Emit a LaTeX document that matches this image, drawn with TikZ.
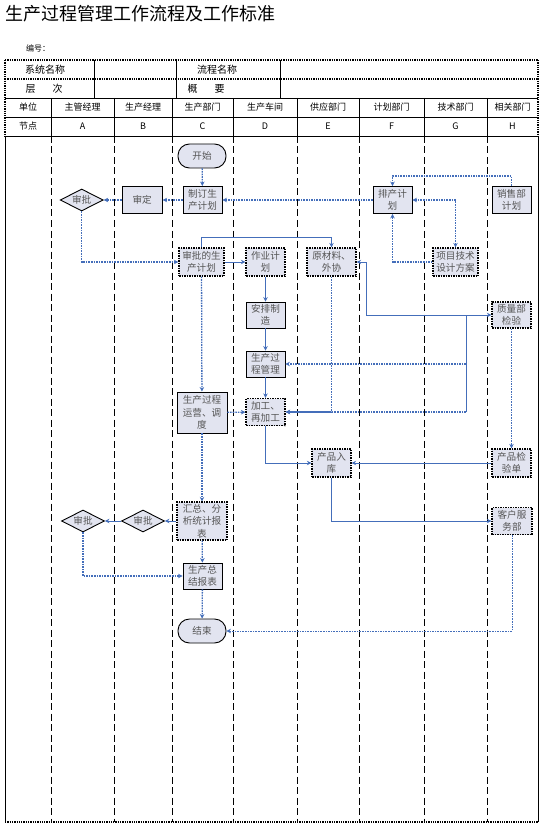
\documentclass[tikz,border=0pt]{standalone}
\usepackage{fontspec}
\setmainfont{Noto Sans CJK SC}
\usetikzlibrary{shapes.geometric, arrows.meta, positioning}
\definecolor{lnblue}{RGB}{68,110,186}
\definecolor{boxfill}{RGB}{226,228,240}
\definecolor{boxtext}{RGB}{85,85,85}
\tikzset{
  box/.style={rectangle, draw, line width=0.9pt, fill=boxfill, text=boxtext,
              align=center, font=\fontsize{9.6}{12.5}\selectfont, inner sep=1pt,
              minimum width=39pt, minimum height=27pt},
  dbox/.style={box, dash pattern=on 1.5pt off 1pt, line width=1.2pt},
  term/.style={box, rounded corners=11.5pt, minimum width=48pt, minimum height=24pt},
  dec/.style={diamond, aspect=2, draw, line width=0.9pt, fill=boxfill, text=boxtext,
              font=\fontsize{9.6}{12.5}\selectfont, inner sep=0pt,
              minimum width=43pt, minimum height=22pt},
  hd/.style={font=\fontsize{9}{10}\selectfont, inner sep=0pt},
  tbl/.style={line width=0.8pt},
  tbld/.style={densely dotted, line width=1.3pt},
  lane/.style={dash pattern=on 7pt off 3.5pt, line width=0.8pt},
  flow/.style={-{Stealth[length=4.5pt,width=4.5pt]}, lnblue, line width=0.9pt},
  flowd/.style={flow, dash pattern=on 1.6pt off 1pt, line width=1.3pt},
}

\begin{document}
\begin{tikzpicture}[x=1pt, y=-1pt]
  \useasboundingbox (0,0) rectangle (553,826);

  % title and header table
  \node[anchor=west, inner sep=0pt, font=\fontsize{18}{20}\selectfont] (title) at (5,14)
    {生产过程管理工作流程及工作标准};
  \node[hd, anchor=west, font=\fontsize{8}{9}\selectfont] (bianhao) at (26,48) {编号：};

  \draw[tbld] (5,60) -- (538,60) (5,79) -- (538,79) (5,60) -- (5,136) (538,60) -- (538,136);
  \draw[tbl] (5,98) -- (538,98) (5,117) -- (538,117) (5,136) -- (538,136);
  \foreach \x in {94,176,280}
    \draw[tbl] (\x,60) -- (\x,98);
  \foreach \x in {51,114,172,233,297,359,424,487}
    \draw[tbl] (\x,98) -- (\x,136);

  \node[hd, font=\fontsize{10}{11}\selectfont] (xtmc) at (45,69.5) {系统名称};
  \node[hd, font=\fontsize{10}{11}\selectfont] (lcmc) at (217,69.5) {流程名称};
  \node[hd, font=\fontsize{10}{11}\selectfont] (cc) at (44,88.5) {层\hspace{17pt}次};
  \node[hd, font=\fontsize{10}{11}\selectfont] (gy) at (206,88.5) {概\hspace{17pt}要};
  \node[hd] (danwei) at (28,107.5) {单位};
  \node[hd] (jiedian) at (28,126.5) {节点};
  \foreach \x/\u/\n [count=\i] in {82.5/主管经理/A, 143/生产经理/B, 202.5/生产部门/C,
      265/生产车间/D, 328/供应部门/E, 391.5/计划部门/F, 455.5/技术部门/G, 512.5/相关部门/H}
  {
    \node[hd] (unit\i) at (\x,107.5) {\u};
    \node[hd] (col\i) at (\x,126.5) {\n};
  }

  % swimlanes
  \draw[tbl] (5,136) -- (5,822) (538,136) -- (538,822);
  \draw[tbld] (5,822) -- (538,822);
  \foreach \x in {51,114,172,233,297,359,424,487}
    \draw[lane] (\x,136) -- (\x,822);

  % nodes
  \node[term] (start) at (202,156) {开始};
  \node[box] (zhiding) at (202.5,200) {制订生\\产计划};
  \node[box, minimum width=40pt, left=20pt of zhiding] (shending) {审定};
  \node[dec, left=18pt of shending] (spA1) {审批};
  \node[box] (pcjh) at (392.5,200) {排产计\\划};
  \node[box] (xsjh) at (511.5,200) {销售部\\计划};

  \node[dbox, minimum width=45pt, minimum height=28pt] (spjh) at (201.5,262) {审批的生\\产计划};
  \node[dbox, minimum height=28pt] (zyjh) at (265.5,262) {作业计\\划};
  \node[dbox, minimum width=49pt, minimum height=28pt] (ycl) at (331.5,262) {原材料、\\外协};
  \node[dbox, minimum width=45pt, minimum height=28pt] (xmjs) at (455.5,262) {项目技术\\设计方案};

  \node[box, minimum height=26pt] (apzz) at (265.5,315) {安排制\\造};
  \node[box, minimum height=26pt] (scgl) at (265.5,364) {生产过\\程管理};
  \node[dbox] (jg) at (265.5,412) {加工、\\再加工};
  \node[box, minimum width=50pt, minimum height=41pt] (yydd) at (202,412.5) {生产过程\\运营、调\\度};
  \node[dbox, minimum height=26pt] (zljy) at (511.5,315) {质量部\\检验};

  \node[dbox, minimum height=28pt] (rk) at (331.5,463) {产品入\\库};
  \node[dbox, minimum height=28pt] (jyd) at (511.5,463) {产品检\\验单};
  \node[dbox, minimum width=40pt] (kf) at (512,521) {客户服\\务部};

  \node[dbox, minimum width=50pt, minimum height=38pt] (hz) at (202,521) {汇总、分\\析统计报\\表};
  \node[dec] (spB) at (143,521) {审批};
  \node[dec] (spA2) at (83,521) {审批};
  \node[box, minimum height=26pt] (zjbb) at (202.5,576) {生产总\\结报表};
  \node[term] (end) at (202,631) {结束};

  % connectors
  \draw[flowd] (start) -- (zhiding);
  \draw[flowd] (zhiding) -- (shending);
  \draw[flowd] (shending) -- (spA1);
  \draw[flowd] (spA1.south) |- (spjh.west);
  \draw[flowd] (pcjh.west) -- (zhiding.east);
  \draw[flowd] (xsjh.north) -- ++(0,-10) -| (pcjh.north);
  \draw[flowd, {Stealth[length=4.5pt,width=4.5pt]}-{Stealth[length=4.5pt,width=4.5pt]}]
    (pcjh.east) -| (xmjs.north);
  \draw[flowd] (xmjs.west) -| (pcjh.south);

  \draw[flow] (spjh) -- (zyjh);
  \draw[flow] (spjh.north) -- ++(0,-10) -| (ycl.north);
  \draw[flowd] (spjh) -- (yydd);
  \draw[flowd] (yydd) -- (hz);
  \draw[flow] (zyjh) -- (apzz);
  \draw[flow] (apzz) -- (scgl);
  \draw[flow] (scgl) -- (jg);
  \draw[flowd] (yydd) -- (jg);
  \draw[flowd] (ycl.south) |- (jg.east);
  \draw[flow, {Stealth[length=4.5pt,width=4.5pt]}-{Stealth[length=4.5pt,width=4.5pt]}]
    (ycl.east) -- ++(10,0) |- (zljy.west);

  \coordinate (zlq) at (466,315);
  \draw[flow, -] (zlq) -- (zlq |- jg.east);
  \draw[flowd] (zlq |- scgl.east) -- (scgl.east);
  \draw[flowd] (zlq |- jg.east) -- (jg.east);

  \draw[flowd, line width=0.9pt] (zljy) -- (jyd);
  \draw[flow] (jyd) -- (rk);
  \draw[flow] (jg.south) |- (rk.west);
  \draw[flow] (rk.south) |- (kf.west);
  \draw[flowd, line width=0.9pt] (kf.south) |- (end.east);

  \draw[flow] (hz) -- (spB);
  \draw[flow] (spB) -- (spA2);
  \draw[flowd] (spA2.south) |- (zjbb.west);
  \draw[flowd] (hz) -- (zjbb);
  \draw[flowd] (zjbb) -- (end);

\end{tikzpicture}
\end{document}
